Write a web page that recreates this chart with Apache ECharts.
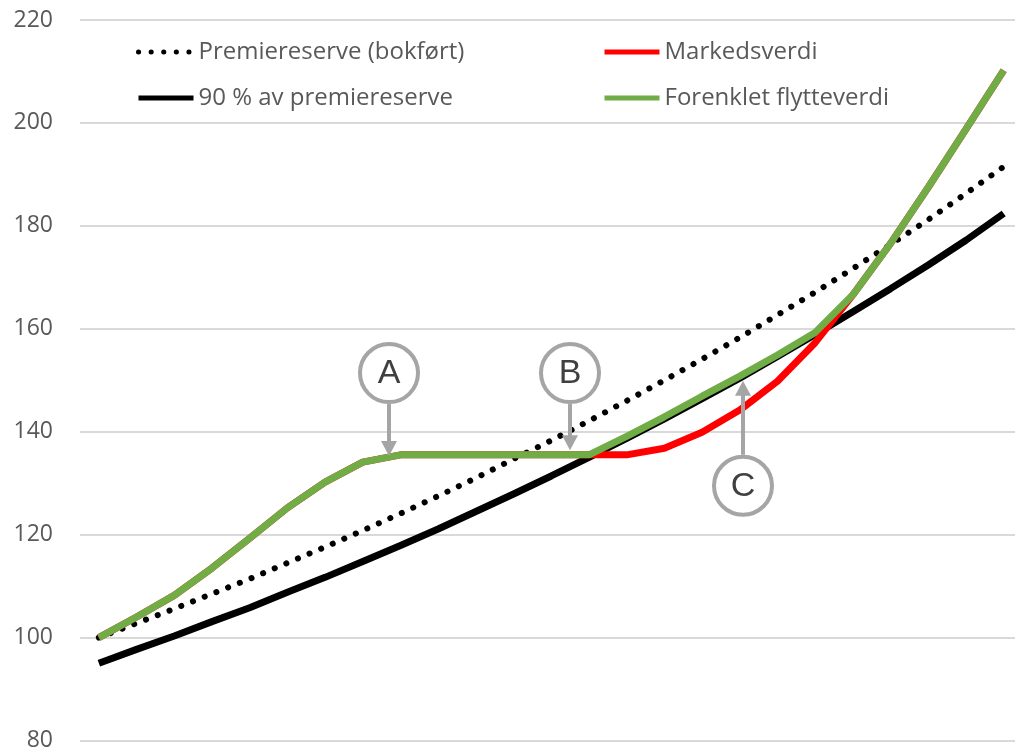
<!DOCTYPE html>
<html>
<head>
<meta charset="utf-8">
<script src="https://cdn.jsdelivr.net/npm/echarts@6/dist/echarts.min.js"></script>
<style>
  html, body { margin: 0; padding: 0; background: #fff; }
  #chart { width: 1015px; height: 752px; }
</style>
</head>
<body>
<div id="chart"></div>
<script>
// Series values, one per period (period index 0..24)
const periods = Array.from({ length: 25 }, (_, i) => i);

const premiereserve = [100.0, 102.8, 105.6, 108.5, 111.4, 114.5, 117.6, 120.8, 124.1, 127.5,
  131.0, 134.7, 138.3, 142.1, 146.0, 150.0, 154.1, 158.3, 162.7, 167.1, 171.7, 176.4, 181.2, 186.3, 191.5];

const premiereserve90 = [95.0, 97.7, 100.3, 103.1, 105.8, 108.8, 111.7, 114.8, 117.9, 121.1,
  124.5, 127.9, 131.4, 135.0, 138.7, 142.5, 146.4, 150.4, 154.6, 158.9, 163.3, 167.8, 172.4, 177.2, 182.4];

const markedsverdi = [100.0, 104.0, 108.2, 113.5, 119.3, 125.2, 130.2, 134.1, 135.5, 135.5,
  135.5, 135.5, 135.5, 135.5, 135.5, 136.8, 139.9, 144.2, 149.8, 157.3, 166.6, 176.6, 187.5, 198.8, 210.2];

const flytteverdi = [100.0, 104.0, 108.2, 113.5, 119.3, 125.2, 130.2, 134.1, 135.5, 135.5,
  135.5, 135.5, 135.5, 135.5, 139.1, 142.9, 146.9, 150.8, 154.9, 159.3, 166.6, 176.6, 187.5, 198.8, 210.2];

const yTicks = { min: 80, max: 220, interval: 20 };

// Lettered call-outs: arrow tip sits on a curve, circle above or below it
const callouts = [
  { letter: 'A', at: 7.70, tip: 135.3, circle: 151.4 },
  { letter: 'B', at: 12.50, tip: 136.4, circle: 151.4 },
  { letter: 'C', at: 17.09, tip: 149.9, circle: 129.5 }
];

const pairs = (vals) => periods.map((p, i) => [p, vals[i]]);

const chart = echarts.init(document.getElementById('chart'), null, { renderer: 'canvas' });

const FONT = '"Open Sans", "Noto Sans", sans-serif';
const LEGEND_W = 5;
const LINE_W = 7;
const legendText = { color: '#595959', fontSize: 24, fontFamily: FONT, lineHeight: 28 };
const legendBase = {
  orient: 'vertical', top: 33, itemWidth: 55, itemHeight: 14, itemGap: 18,
  itemStyle: { opacity: 0 }, lineStyle: { width: LEGEND_W }, textStyle: legendText
};

chart.setOption({
  animation: false,
  backgroundColor: '#ffffff',
  grid: { left: 80, right: 0, top: 20, bottom: 10 },
  xAxis: {
    type: 'value', min: -0.5, max: 24.3,
    axisLine: { show: false }, axisTick: { show: false },
    axisLabel: { show: false }, splitLine: { show: false }
  },
  yAxis: {
    type: 'value', min: yTicks.min, max: yTicks.max, interval: yTicks.interval,
    axisLine: { show: false }, axisTick: { show: false },
    axisLabel: { color: '#595959', fontSize: 23, fontFamily: FONT, margin: 27 },
    splitLine: { lineStyle: { color: '#D9D9D9', width: 2 } }
  },
  legend: [
    Object.assign({ left: 131, data: ['Premiereserve (bokført)', '90 % av premiereserve'] }, legendBase),
    Object.assign({ left: 597, data: ['Markedsverdi', 'Forenklet flytteverdi'] }, legendBase)
  ],
  series: [
    {
      name: 'Premiereserve (bokført)', type: 'line', symbol: 'none', data: pairs(premiereserve),
      lineStyle: { color: '#000', width: 6, type: [0.1, 12.5], cap: 'round' },
      itemStyle: { color: '#000' }, z: 2
    },
    {
      name: '90 % av premiereserve', type: 'line', symbol: 'none', data: pairs(premiereserve90),
      lineStyle: { color: '#000', width: LINE_W }, itemStyle: { color: '#000' }, z: 3
    },
    {
      name: 'Markedsverdi', type: 'line', symbol: 'none', data: pairs(markedsverdi),
      lineStyle: { color: '#FF0000', width: LINE_W }, itemStyle: { color: '#FF0000' }, z: 4
    },
    {
      name: 'Forenklet flytteverdi', type: 'line', symbol: 'none', data: pairs(flytteverdi),
      lineStyle: { color: '#70AD47', width: LINE_W }, itemStyle: { color: '#70AD47' }, z: 5
    }
  ]
});

// Build the call-out circles and arrows in pixel space from data positions
const gray = '#A5A5A5';
const r = 29;
const headLen = 15, headHalf = 8;
const graphics = [];
callouts.forEach((c) => {
  const tip = chart.convertToPixel({ gridIndex: 0 }, [c.at, c.tip]);
  const ctr = chart.convertToPixel({ gridIndex: 0 }, [c.at, c.circle]);
  const x = Math.round(tip[0]);
  const dir = ctr[1] < tip[1] ? 1 : -1; // 1: arrow points down
  const start = ctr[1] + dir * (r + 2);
  const base = tip[1] - dir * headLen;
  graphics.push({
    type: 'line', z: 100,
    shape: { x1: x, y1: start, x2: x, y2: base + dir * 1 },
    style: { stroke: gray, lineWidth: 4 }
  });
  graphics.push({
    type: 'polygon', z: 100,
    shape: { points: [[x - headHalf, base], [x + headHalf, base], [x, tip[1]]] },
    style: { fill: gray }
  });
  graphics.push({
    type: 'circle', z: 100,
    shape: { cx: x, cy: ctr[1], r: r },
    style: { fill: '#ffffff', stroke: gray, lineWidth: 4 }
  });
  graphics.push({
    type: 'text', z: 101,
    x: x, y: ctr[1] + 1,
    style: {
      text: c.letter, fill: '#404040', font: '34px "Liberation Sans"',
      align: 'center', verticalAlign: 'middle'
    }
  });
});
chart.setOption({ graphic: graphics });
</script>
</body>
</html>
